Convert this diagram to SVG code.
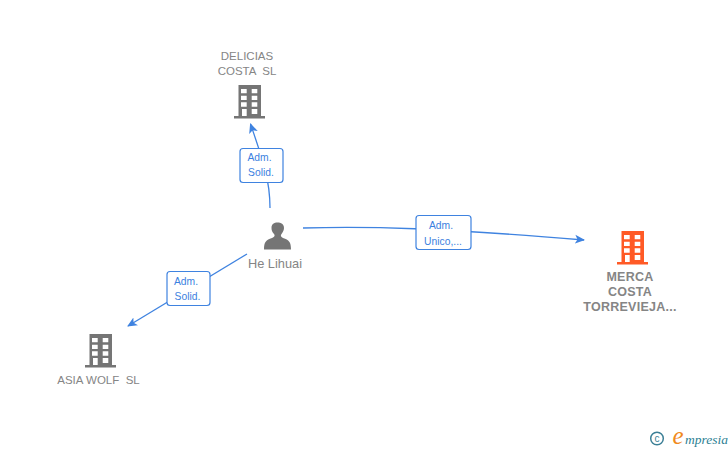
<svg xmlns="http://www.w3.org/2000/svg" width="728" height="450" viewBox="0 0 728 450">
<style>
text{font-family:"Liberation Sans",Arial,sans-serif;white-space:pre}
.n{font-size:11.500px;fill:#858585;text-anchor:middle}
.b{font-weight:bold;font-size:12.500px;letter-spacing:.25px}
.l{font-size:10.300px;fill:#3b7fe0;text-anchor:middle}
.c{fill:none;stroke:#3f83e0;stroke-width:1.300}
.box{fill:#fff;stroke:#3f83e0;stroke-width:1.200}
</style>
<defs>
<marker id="a" markerWidth="12" markerHeight="10" refX="9" refY="5" orient="auto" markerUnits="userSpaceOnUse"><path d="M0 .5L10 5L0 9.500L2.500 5Z" fill="#3f83e0"/></marker>
<g id="bld"><path fill-rule="evenodd" d="M4.500 0H27V31H31V33.500H0V31H4.500ZM7 4V8.300H12.700V4ZM17.700 4V8.300H23.300V4ZM7 10.700V15H12.700V10.700ZM17.700 10.700V15H23.300V10.700ZM7 17.300V21.700H12.700V17.300ZM17.700 17.300V21.700H23.300V17.300ZM8 24V31H12.700V24ZM17.700 24V29H23.300V24Z"/></g>
</defs>
<g id="connectors">
<path class="c" d="M270 208C270 180 263 160 250.500 124" marker-end="url(#a)"/>
<path class="c" d="M303 228C370 226 440 228 584 240" marker-end="url(#a)"/>
<path class="c" d="M247 254L128 326" marker-end="url(#a)"/>
</g>
<g id="edge-label-1"><rect class="box" x="240" y="148.500" width="43" height="34" rx="3"/><text class="l" x="259.500" y="161">Adm.</text><text class="l" x="261" y="176">Solid.</text></g>
<g id="edge-label-2"><rect class="box" x="416" y="215.500" width="55" height="34" rx="3"/><text class="l" x="441" y="229">Adm.</text><text class="l" x="443" y="244.500">Unico,...</text></g>
<g id="edge-label-3"><rect class="box" x="167" y="271.500" width="43" height="34" rx="3"/><text class="l" x="186" y="285">Adm.</text><text class="l" x="187.500" y="300">Solid.</text></g>
<g id="node-delicias"><use href="#bld" x="234" y="85" fill="#757575"/><text class="n" x="247" y="60">DELICIAS</text><text class="n" x="247" y="75">COSTA  SL</text></g>
<g id="node-he-lihuai"><path fill="#757575" d="M264 249.500C264 242 266 240 272 238C275 237 275 235 274 234C272 232 271.500 230 271.500 228C271.500 224 274 222.500 277.500 222.500C281 222.500 284 224 284 228C284 230 283 232 281.500 234C280.500 235 280.500 237 283 238C289 240 291 242 291 249.500Z"/><text class="n" x="275" y="268" style="font-size:12.800px">He Lihuai</text></g>
<g id="node-merca"><use href="#bld" x="617" y="231" fill="#ff5a26"/><text class="n b" x="630" y="281">MERCA</text><text class="n b" x="630" y="296">COSTA</text><text class="n b" x="630" y="311">TORREVIEJA...</text></g>
<g id="node-asia"><use href="#bld" x="85" y="334" fill="#757575"/><text class="n" x="98.500" y="384">ASIA WOLF  SL</text></g>
<g id="logo"><circle cx="657" cy="438.500" r="6.300" fill="none" stroke="#3b7f96" stroke-width="1.500"/><text x="657" y="442" style="font-size:10px;fill:#3b7f96;text-anchor:middle">c</text><text x="678" y="444" style="font-family:'Liberation Serif',serif;font-style:italic;font-size:25px;fill:#f08a1d;text-anchor:middle">e</text><text x="685" y="444" style="font-family:'Liberation Serif',serif;font-style:italic;font-size:13.500px;fill:#2d7f93">mpresia</text></g>
</svg>
